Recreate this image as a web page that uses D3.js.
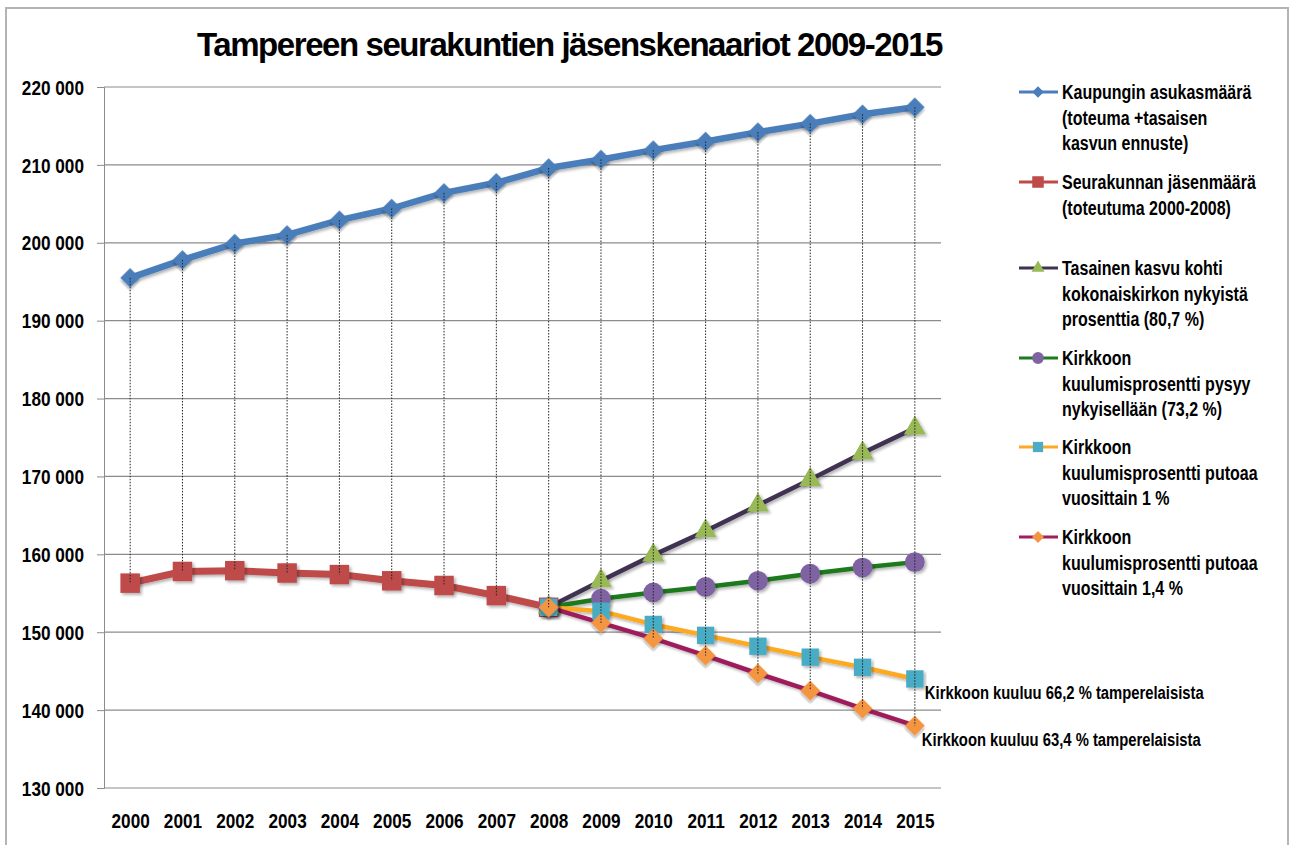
<!DOCTYPE html>
<html>
<head>
<meta charset="utf-8">
<script src="https://cdn.jsdelivr.net/npm/d3@7"></script>
<style>
  body { margin: 0; background: #fff; }
  text { font-family: "Liberation Sans", Arial, sans-serif; font-weight: bold; fill: #000; }
</style>
</head>
<body>
<div id="chart"></div>
<script>
// values
const years = ["2000","2001","2002","2003","2004","2005","2006","2007","2008","2009","2010","2011","2012","2013","2014","2015"];
const cityPop = [195500, 197800, 199900, 201000, 202900, 204400, 206400, 207700, 209600, 210700, 211900, 213000, 214200, 215300, 216500, 217400];
const memberYears = ["2000","2001","2002","2003","2004","2005","2006","2007","2008"];
const memberActual = [156300, 157800, 157900, 157600, 157400, 156600, 156000, 154700, 153200];
const scenarioYears = ["2008","2009","2010","2011","2012","2013","2014","2015"];
const growthTo807 = [153200, 156600, 159900, 163000, 166300, 169600, 173000, 176200];
const steady732 = [153200, 154300, 155100, 155800, 156600, 157500, 158300, 159000];
const drop1pct = [153200, 152700, 151000, 149600, 148200, 146800, 145500, 144000];
const drop14pct = [153200, 151200, 149200, 147000, 144700, 142500, 140200, 138000];
const yTicks = [130000, 140000, 150000, 160000, 170000, 180000, 190000, 200000, 210000, 220000];
const legendLabels = [
  ["Kaupungin asukasmäärä", "(toteuma +tasaisen", "kasvun ennuste)"],
  ["Seurakunnan jäsenmäärä", "(toteutuma 2000-2008)"],
  ["Tasainen kasvu kohti", "kokonaiskirkon nykyistä", "prosenttia (80,7 %)"],
  ["Kirkkoon", "kuulumisprosentti pysyy", "nykyisellään (73,2 %)"],
  ["Kirkkoon", "kuulumisprosentti putoaa", "vuosittain 1 %"],
  ["Kirkkoon", "kuulumisprosentti putoaa", "vuosittain 1,4 %"]
];
const noteLabels = ["Kirkkoon kuuluu 66,2 % tamperelaisista", "Kirkkoon kuuluu 63,4 % tamperelaisista"];

// rot: 45 turns a square into an Excel style diamond
const series = [
  {x: years, v: cityPop, line: "#4a7ebb", fill: "#4a7ebb", sym: d3.symbolSquare, rot: 45, size: 190, lw: 6.5},
  {x: memberYears, v: memberActual, line: "#be4b48", fill: "#be4b48", sym: d3.symbolSquare, rot: 0, size: 380, lw: 7},
  {x: scenarioYears, v: growthTo807, line: "#3f3151", fill: "#98b954", sym: d3.symbolTriangle, rot: 0, size: 210, lw: 4.5},
  {x: scenarioYears, v: steady732, line: "#1d7a1d", fill: "#7e62a1", sym: d3.symbolCircle, rot: 0, size: 310, lw: 4.5},
  {x: scenarioYears, v: drop1pct, line: "#fda924", fill: "#4aacc5", sym: d3.symbolSquare, rot: 0, size: 300, lw: 4.5},
  {x: scenarioYears, v: drop14pct, line: "#9e1f5c", fill: "#f49543", sym: d3.symbolSquare, rot: 45, size: 200, lw: 4.5}
];

const width = 1290, height = 845;
const svg = d3.select("#chart").append("svg")
  .attr("width", width)
  .attr("height", height);

// condensed bold text (no narrow font installed, so squeeze horizontally)
function narrowText(sel, px, py, size, sx, str) {
  return sel.append("text")
    .attr("transform", `translate(${px},${py}) scale(${sx},1)`)
    .attr("font-size", size)
    .text(str);
}

const defs = svg.append("defs");
const shadow = defs.append("filter").attr("id", "shadow")
  .attr("x", "-20%").attr("y", "-20%").attr("width", "140%").attr("height", "140%");
shadow.append("feDropShadow")
  .attr("dx", 2).attr("dy", 2).attr("stdDeviation", 1.6)
  .attr("flood-color", "#000").attr("flood-opacity", 0.3);

// outer frame
svg.append("rect")
  .attr("x", 6).attr("y", 8)
  .attr("width", 1282).attr("height", 850)
  .attr("fill", "none").attr("stroke", "#b4b4b4").attr("stroke-width", 2);

const x = d3.scalePoint().domain(years).range([104, 941]).padding(0.5);
const y = d3.scaleLinear().domain([130000, 220000]).range([788, 87]);

const fmt = d3.formatLocale({decimal: ",", thousands: " ", grouping: [3], currency: ["", ""]}).format(",");

// gridlines + y axis
const yAxis = d3.axisLeft(y).tickValues(yTicks).tickFormat(fmt).tickSize(7);
const gy = svg.append("g").attr("transform", "translate(104,0)").call(yAxis);
gy.select(".domain").attr("stroke", "#8c8c8c");
gy.selectAll(".tick line").attr("stroke", "#8c8c8c");
gy.selectAll(".tick text")
  .attr("x", null).attr("dy", "0.36em")
  .attr("transform", "translate(-20,0) scale(0.86,1)")
  .attr("font-size", 20).attr("fill", "#000")
  .attr("font-family", "Liberation Sans, Arial, sans-serif")
  .attr("font-weight", "bold");
svg.append("g").selectAll("line")
  .data(yTicks)
  .join("line")
  .attr("x1", 104).attr("x2", 941)
  .attr("y1", d => y(d)).attr("y2", d => y(d))
  .attr("stroke", "#8c8c8c").attr("stroke-width", 1.2);

// x axis labels
const xAxis = d3.axisBottom(x).tickSize(0).tickPadding(26);
const gx = svg.append("g").attr("transform", "translate(0,788)").call(xAxis);
gx.select(".domain").remove();
gx.selectAll(".tick text")
  .attr("transform", "scale(0.86,1)")
  .attr("font-size", 20).attr("fill", "#000")
  .attr("font-family", "Liberation Sans, Arial, sans-serif")
  .attr("font-weight", "bold");

// series lines and markers
const line = d3.line().x(d => x(d[0])).y(d => y(d[1]));
series.forEach(s => {
  const pts = s.x.map((yr, k) => [yr, s.v[k]]);
  svg.append("path")
    .datum(pts)
    .attr("d", line)
    .attr("fill", "none")
    .attr("stroke", s.line)
    .attr("stroke-width", s.lw)
    .attr("stroke-linejoin", "round")
    .attr("filter", "url(#shadow)");
});
series.forEach(s => {
  const pts = s.x.map((yr, k) => [yr, s.v[k]]);
  svg.append("g").selectAll("path")
    .data(pts)
    .join("path")
    .attr("transform", d => `translate(${x(d[0])},${y(d[1])}) rotate(${s.rot})`)
    .attr("d", d3.symbol().type(s.sym).size(s.size))
    .attr("fill", s.fill)
    .attr("filter", "url(#shadow)");
});

// high-low drop lines, drawn over the markers
const lows = years.map((yr, i) => {
  let vals = [];
  series.slice(1).forEach(s => {
    const k = s.x.indexOf(yr);
    if (k >= 0) vals.push(s.v[k]);
  });
  return {yr: yr, hi: cityPop[i], lo: d3.min(vals)};
});
svg.append("g").selectAll("line")
  .data(lows)
  .join("line")
  .attr("x1", d => x(d.yr)).attr("x2", d => x(d.yr))
  .attr("y1", d => y(d.hi)).attr("y2", d => y(d.lo))
  .attr("stroke", "#222").attr("stroke-width", 1)
  .attr("stroke-dasharray", "1.5,1.5");

// notes next to the last points
narrowText(svg, x("2015") + 10, y(drop1pct[7]) + 20, 19, 0.78, noteLabels[0]);
narrowText(svg, x("2015") + 7, y(drop14pct[7]) + 20, 19, 0.78, noteLabels[1]);

// title
svg.append("text")
  .attr("x", 197).attr("y", 56)
  .attr("font-size", 34)
  .attr("letter-spacing", -1.5)
  .attr("textLength", 745).attr("lengthAdjust", "spacingAndGlyphs")
  .text("Tampereen seurakuntien jäsenskenaariot 2009-2015");

// legend
const legendTop = [92, 182, 268, 358, 447, 537];
const lg = svg.append("g");
series.forEach((s, i) => {
  const g = lg.append("g").attr("transform", `translate(0,${legendTop[i]})`);
  g.append("line").attr("x1", 1019).attr("x2", 1058).attr("y1", 0).attr("y2", 0)
    .attr("stroke", s.line).attr("stroke-width", 3);
  g.append("path").attr("transform", `translate(1038,0) rotate(${s.rot})`)
    .attr("d", d3.symbol().type(s.sym).size(s.size * 0.35))
    .attr("fill", s.fill);
  legendLabels[i].forEach((t, k) => {
    narrowText(g, 1062, k * 25.5 + 7, 20, 0.8, t);
  });
});
</script>
</body>
</html>
